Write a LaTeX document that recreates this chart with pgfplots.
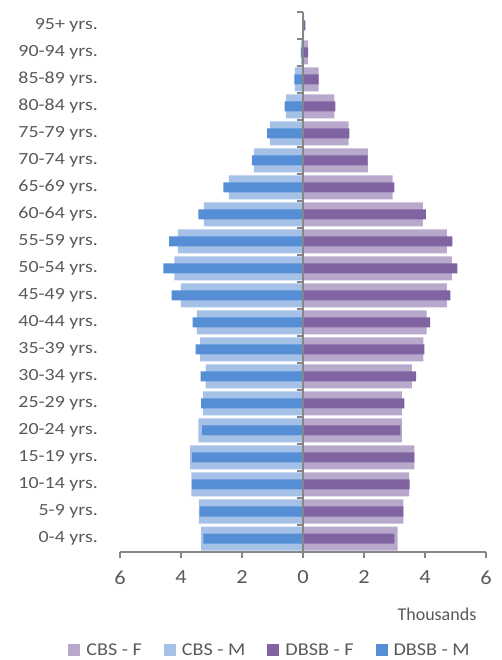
\documentclass[border=0pt]{standalone}
\usepackage{fontspec}
\setmainfont{Carlito}
\usepackage{graphicx}
\usepackage{pgfplots}
\usepackage{pgfplotstable}
\pgfplotsset{compat=1.18}
\definecolor{cbsf}{HTML}{B8A9CC}
\definecolor{cbsm}{HTML}{A6C1E8}
\definecolor{dbsbf}{HTML}{8064A2}
\definecolor{dbsbm}{HTML}{558ED5}
\definecolor{txt}{HTML}{595959}
\definecolor{axl}{HTML}{868686}
\newcommand{\sx}[1]{\scalebox{1.17}[1]{#1}}
\newcommand{\sw}[1]{\scalebox{1.12}[1]{#1}}

\pgfplotstableread{
y cbsf cbsm dbsbf dbsbm
0 3.10 -3.34 3.00 -3.27
1 3.29 -3.41 3.29 -3.39
2 3.48 -3.66 3.50 -3.64
3 3.65 -3.70 3.65 -3.64
4 3.24 -3.43 3.19 -3.31
5 3.24 -3.28 3.32 -3.34
6 3.57 -3.19 3.71 -3.36
7 3.95 -3.37 3.98 -3.52
8 4.05 -3.48 4.17 -3.62
9 4.72 -4.00 4.83 -4.31
10 4.88 -4.22 5.06 -4.58
11 4.72 -4.10 4.90 -4.39
12 3.93 -3.25 4.03 -3.43
13 2.94 -2.43 3.00 -2.61
14 2.13 -1.61 2.12 -1.68
15 1.50 -1.09 1.52 -1.18
16 1.03 -0.56 1.06 -0.60
17 0.51 -0.27 0.51 -0.28
18 0.16 -0.07 0.17 -0.07
19 0.04 -0.01 0.08 -0.01
}\data

\begin{document}
\begin{tikzpicture}
\path[use as bounding box] (-120pt,-108pt) rectangle (382pt,552pt);
\begin{axis}[
  at={(0,0)}, anchor=south west,
  scale only axis, width=366pt, height=540pt,
  xmin=-6, xmax=6, ymin=-0.5, ymax=19.5,
  xbar, bar shift=0pt,
  axis x line*=bottom, axis y line*=left,
  axis line style={-},
  x axis line style={axl, line width=1.2pt},
  y axis line style={draw=none},
  ytick style={draw=none},
  xtick style={axl, line width=1.2pt},
  tick align=outside, major tick length=6pt,
  xtick={-6,-4,...,6},
  xticklabels={\sw{6},\sw{4},\sw{2},\sw{0},\sw{2},\sw{4},\sw{6}},
  xticklabel style={font=\fontsize{20}{20}\selectfont, text=txt, yshift=-9pt},
  ytick={0,...,19},
  yticklabels={\sx{0-4 yrs.},\sx{5-9 yrs.},\sx{10-14 yrs.},\sx{15-19 yrs.},\sx{20-24 yrs.},\sx{25-29 yrs.},\sx{30-34 yrs.},\sx{35-39 yrs.},\sx{40-44 yrs.},\sx{45-49 yrs.},\sx{50-54 yrs.},\sx{55-59 yrs.},\sx{60-64 yrs.},\sx{65-69 yrs.},\sx{70-74 yrs.},\sx{75-79 yrs.},\sx{80-84 yrs.},\sx{85-89 yrs.},\sx{90-94 yrs.},\sx{95+ yrs.}},
  yticklabel style={font=\fontsize{17}{17}\selectfont, text=txt, anchor=east, inner sep=0pt, xshift=-16pt},
  xlabel={Thousands},
  xlabel style={font=\fontsize{18}{18}\selectfont, text=txt, at={(rel axis cs:0.866,0)}, anchor=center, yshift=-62pt},
  legend columns=4,
  legend style={draw=none, fill=none, at={(rel axis cs:0.41,0)}, anchor=center, yshift=-98pt,
    font=\fontsize{18}{18}\selectfont, text=txt,
    /tikz/every even column/.append style={column sep=20pt},
    /tikz/every odd column/.append style={column sep=4pt}},
  legend image code/.code={\fill[#1] (0pt,-6pt) rectangle (12pt,6pt);},
]
\addplot[fill=cbsf, draw=none, bar width=24pt] table[x=cbsf,y=y]{\data};
\addplot[fill=cbsm, draw=none, bar width=24pt] table[x=cbsm,y=y]{\data};
\addplot[fill=dbsbf, draw=none, bar width=10pt] table[x=dbsbf,y=y]{\data};
\addplot[fill=dbsbm, draw=none, bar width=10pt] table[x=dbsbm,y=y]{\data};
\legend{\sw{CBS - F},\sw{CBS - M},\sw{DBSB - F},\sw{DBSB - M}}
\draw[axl, line width=1.2pt] (axis cs:0,-0.5) -- (axis cs:0,19.5);
\pgfplotsinvokeforeach{0,...,20}{\draw[axl, line width=1.2pt] (axis cs:0,#1-0.5) -- ([xshift=-6pt]axis cs:0,#1-0.5);}
\end{axis}
\end{tikzpicture}
\end{document}
